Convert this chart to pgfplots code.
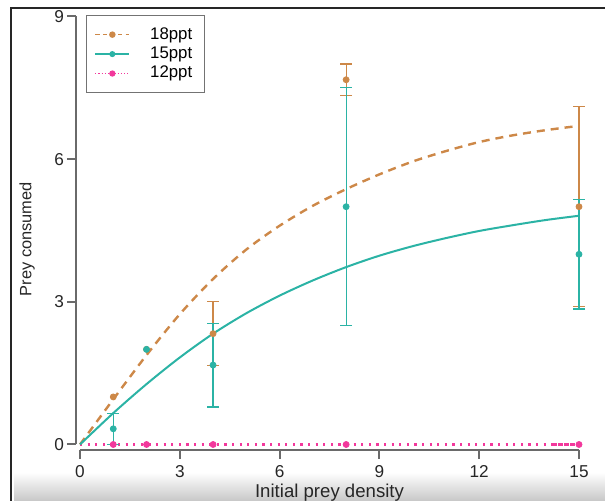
\documentclass[border=0pt]{standalone}
\usepackage{fontspec}
\setmainfont{Liberation Sans}
\usepackage{pgfplots}
\pgfplotsset{compat=1.18}
\definecolor{c18}{HTML}{CD8848}
\definecolor{c15}{HTML}{2BB3A5}
\definecolor{c12}{HTML}{F2389C}
\definecolor{axgray}{HTML}{6A6A6A}

\begin{document}
\begin{tikzpicture}
\useasboundingbox (-40pt,-28.25pt) rectangle (262.5pt,222.25pt);
% screenshot frame and shadow
\shade[top color=white, bottom color=black!22] (-33pt,-14pt) rectangle (262.5pt,-28.25pt);
\draw[line width=1.25pt, black!85] (-34.5pt,-30pt) -- (-34.5pt,218.25pt) -- (265pt,218.25pt);
\begin{axis}[
  scale only axis, width=249.5pt, height=214pt,
  xmin=0, xmax=15, ymin=0, ymax=9, enlargelimits=false, clip=false,
  axis x line*=bottom, axis y line*=left,
  axis line style={axgray, line width=1pt},
  x axis line style={yshift=-2.75pt, -},
  y axis line style={xshift=-2pt, -},
  xtick={0,3,6,9,12,15}, ytick={0,3,6,9},
  tick align=outside, major tick length=4.5pt,
  xtick style={yshift=-2.75pt, axgray, line width=1pt},
  ytick style={xshift=-2pt, axgray, line width=1pt},
  xticklabel style={yshift=-2.5pt},
  yticklabel style={xshift=0pt},
  tick label style={font=\fontsize{8.6}{10}\selectfont, text=black!85},
  /pgf/number format/assume math mode=true,
  xlabel={Initial prey density}, ylabel={Prey consumed},
  xlabel style={at={(axis description cs:0.5,-0.113)}, anchor=center,
    font=\fontsize{9.3}{11}\selectfont, text=black!85},
  ylabel style={at={(axis description cs:-0.106,0.48)}, anchor=center,
    font=\fontsize{8.2}{10}\selectfont, text=black!85},
  legend style={at={(axis description cs:0.012,1.004)}, anchor=north west,
    draw=black!55, line width=0.5pt, font=\fontsize{8.4}{10}\selectfont,
    row sep=-1.6pt, inner xsep=4pt, inner ysep=4pt},
  legend cell align=left,
  /tikz/every odd column/.append style={column sep=8pt},
]
% legend entries
\addlegendimage{c18, line width=0.8pt, dash pattern=on 2.2pt off 1.6pt, mark=*, mark size=1.2pt, mark options={solid}}
\addlegendentry{18ppt}
\addlegendimage{c15, line width=0.6pt, mark=*, mark size=1.2pt}
\addlegendentry{15ppt}
\addlegendimage{c12, line width=0.7pt, dash pattern=on 0.6pt off 1pt, mark=*, mark size=1.2pt, mark options={solid}}
\addlegendentry{12ppt}

% fitted curves
\addplot[forget plot, c12, line width=1.2pt, dash pattern=on 1.1pt off 2.7pt] coordinates {(0,0) (14.2,0)};
\addplot[forget plot, c12, line width=1.2pt, dash pattern=on 2.2pt off 0.8pt] coordinates {(14.2,0) (15,0)};
\addplot[forget plot, c18, line width=1.2pt, dash pattern=on 4pt off 3pt, smooth] coordinates {
  (0,0) (1,0.95) (2,1.88) (3,2.74) (4,3.48) (5,4.10) (6,4.60) (7,5.02)
  (8,5.37) (9,5.68) (10,5.95) (11,6.17) (12,6.36) (13,6.50) (14,6.61) (15,6.70)};
\addplot[forget plot, c15, line width=1pt, smooth] coordinates {
  (0,0) (1,0.66) (2,1.27) (3,1.83) (4,2.33) (5,2.76) (6,3.13) (7,3.45)
  (8,3.73) (9,3.97) (10,4.17) (11,4.34) (12,4.49) (13,4.61) (14,4.72) (15,4.81)};

% observed means with error bars
\addplot[forget plot, only marks, c18, mark=*, mark size=1.5pt,
  error bars/.cd, y dir=both, y explicit,
  error bar style={line width=0.6pt},
  error mark options={rotate=90, mark size=3pt, line width=0.6pt}]
  table[x=x, y=y, y error=e] {
x y e
4 2.33 0.67
8 7.67 0.33
15 5.00 2.10
};
\addplot[forget plot, only marks, c18, mark=*, mark size=1.5pt] coordinates {(1,1.0) (2,2.0)};
\addplot[forget plot, only marks, c15, mark=*, mark size=1.5pt,
  error bars/.cd, y dir=both, y explicit,
  error bar style={line width=0.6pt},
  error mark options={rotate=90, mark size=3pt, line width=0.6pt}]
  table[x=x, y=y, y error=e] {
x y e
1 0.33 0.33
4 1.67 0.88
8 5.00 2.50
15 4.00 1.15
};
\addplot[forget plot, only marks, c15, mark=*, mark size=1.5pt] coordinates {(2,2.0)};
\addplot[forget plot, only marks, c12, mark=*, mark size=1.5pt] coordinates {
  (1,0) (2,0) (4,0) (8,0) (15,0)};
\end{axis}
\end{tikzpicture}
\end{document}
